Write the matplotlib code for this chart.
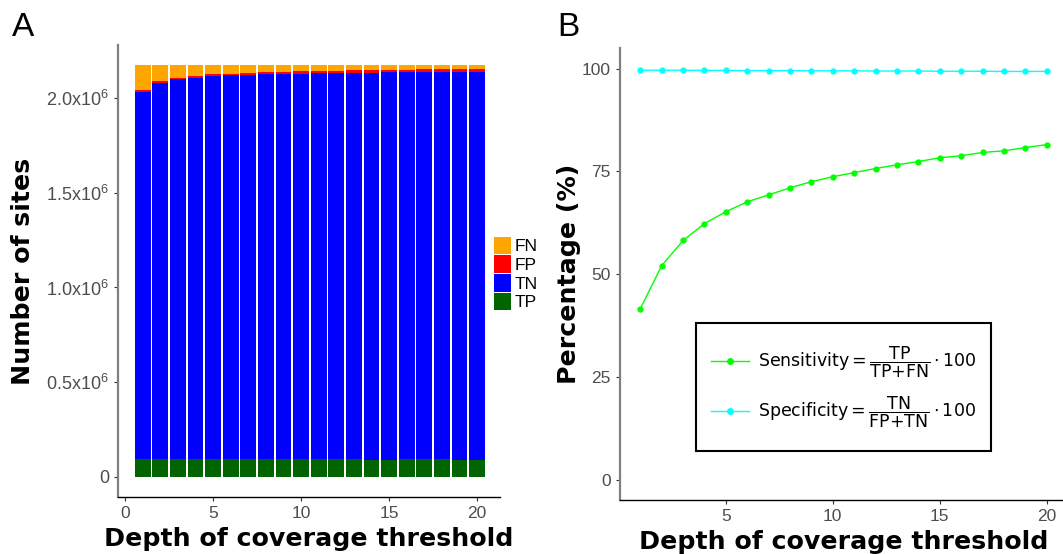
import numpy as np
import matplotlib
matplotlib.use("Agg")
import matplotlib.pyplot as plt
from matplotlib.patches import Patch
from matplotlib.lines import Line2D
from matplotlib.path import Path
from matplotlib.font_manager import FontProperties

plt.rcParams['font.family'] = 'Liberation Sans'
plt.rcParams['mathtext.fontset'] = 'custom'
plt.rcParams['mathtext.rm'] = 'Liberation Sans'
plt.rcParams['mathtext.it'] = 'Liberation Sans:italic'
plt.rcParams['mathtext.bf'] = 'Liberation Sans:bold'

# Data
depth = list(range(1, 21))
tp = [95000, 95000, 95000, 95000, 95000, 95000, 95000, 95000, 95000, 95000,
      95000, 95000, 95000, 91000, 91000, 95000, 95000, 95000, 91000, 91000]
tn = [1938600, 1983700, 2003300, 2013000, 2019300, 2024000, 2026900, 2030200, 2032500, 2034100,
      2035800, 2037000, 2038500, 2043300, 2044700, 2040900, 2042200, 2042250, 2047400, 2048400]
fp = [8000, 9000, 8500, 9500, 10000, 10500, 11000, 11000, 11500, 12000,
      12000, 12500, 12500, 13000, 13000, 13500, 13500, 14000, 14000, 15000]
fn = [133400, 87300, 68200, 57500, 50700, 45500, 42100, 38800, 36000, 33900,
      32200, 30500, 29000, 26600, 25200, 25600, 24300, 23750, 21600, 20650]

sensitivity = [41.6, 52.1, 58.2, 62.3, 65.2, 67.6, 69.3, 71.0, 72.5, 73.7,
               74.7, 75.7, 76.6, 77.4, 78.3, 78.8, 79.6, 80.0, 80.8, 81.5]
specificity = [99.6, 99.6, 99.6, 99.55, 99.55, 99.5, 99.5, 99.5, 99.45, 99.45,
               99.45, 99.4, 99.4, 99.4, 99.35, 99.35, 99.35, 99.3, 99.3, 99.3]

colors = {'FN': '#FFA500', 'FP': '#FF0000', 'TN': '#0000FF', 'TP': '#006400'}

fig = plt.figure(figsize=(10.63, 5.54), dpi=100)
W, H = 1063, 554

# ---------------- Panel A ----------------
axA = fig.add_axes([118 / W, 1 - 497 / H, (500 - 118) / W, (497 - 45) / H])
x = np.array(depth)
bottom = np.zeros(len(depth))
for name, vals in [('TP', tp), ('TN', tn), ('FP', fp), ('FN', fn)]:
    axA.bar(x, vals, width=0.9, bottom=bottom, color=colors[name], linewidth=0)
    bottom += np.array(vals)

axA.set_xlim(-0.4, 21.3)
axA.set_ylim(-0.106e6, 2.28e6)
axA.set_xticks([0, 5, 10, 15, 20])
axA.set_yticks([0, 0.5e6, 1.0e6, 1.5e6, 2.0e6])
axA.set_yticklabels(['0', r'0.5x10$^{6}$', r'1.0x10$^{6}$', r'1.5x10$^{6}$', r'2.0x10$^{6}$'])
axA.set_xlabel('Depth of coverage threshold', fontsize=18.2, fontweight='bold',
               family='DejaVu Sans', labelpad=4)
axA.set_ylabel('Number of sites', fontsize=18.2, fontweight='bold',
               family='DejaVu Sans', labelpad=8)

leg_handles = [Patch(facecolor=colors[k], edgecolor='none', label=k) for k in ['FN', 'FP', 'TN', 'TP']]
fig.legend(handles=leg_handles, loc='center left', bbox_to_anchor=(494 / W, 1 - 273.5 / H),
           frameon=False, fontsize=12.5, handlelength=1.0, handleheight=1.2,
           handletextpad=0.2, labelspacing=0.05, borderpad=0, borderaxespad=0)

# ---------------- Panel B ----------------
axB = fig.add_axes([620 / W, 1 - 500 / H, (1067 - 620) / W, (500 - 48) / H])
axB.plot(depth, sensitivity, color='#00FF00', lw=1, marker='o', ms=3.5)
axB.plot(depth, specificity, color='#00FFFF', lw=1, marker='o', ms=3.5)
axB.set_xlim(0.05, 20.95)
axB.set_ylim(-4.9, 105)
axB.set_xticks([5, 10, 15, 20])
axB.set_yticks([0, 25, 50, 75, 100])
axB.set_xlabel('Depth of coverage threshold', fontsize=18.2, fontweight='bold',
               family='DejaVu Sans', labelpad=4)
axB.set_ylabel('Percentage (%)', fontsize=18.2, fontweight='bold',
               family='DejaVu Sans', labelpad=1)

lh = [Line2D([], [], color='#00FF00', lw=1, marker='o', ms=4),
      Line2D([], [], color='#00FFFF', lw=1, marker='o', ms=4)]
labels = [r'Sensitivity$=\dfrac{\mathrm{TP}}{\mathrm{TP{+}FN}}\cdot100$',
          r'Specificity$=\dfrac{\mathrm{TN}}{\mathrm{FP{+}TN}}\cdot100$']
prop = FontProperties(family='DejaVu Sans', size=12.5, math_fontfamily='dejavusans')
legB = axB.legend(lh, labels, loc='center', bbox_to_anchor=(0.5, 0.25), prop=prop,
                  fancybox=False, edgecolor='black', framealpha=1,
                  handlelength=2.2, borderpad=0.85,
                  labelspacing=0.85, handletextpad=0.5)


# legend box a bit taller than the default padding gives
def tall_box(x0, y0, width, height, mutation_size):
    dy = 0.37 * mutation_size
    return Path([(x0, y0 - dy), (x0 + width, y0 - dy), (x0 + width, y0 + height + dy),
                 (x0, y0 + height + dy), (x0, y0 - dy)], closed=True)


legB.get_frame().set_boxstyle(tall_box)
legB.get_frame().set_linewidth(1.5)

for ax in (axA, axB):
    for s in ('top', 'right'):
        ax.spines[s].set_visible(False)
    ax.spines['left'].set_color('#808080')
    ax.spines['left'].set_linewidth(1.6)
    ax.spines['bottom'].set_color('black')
    ax.spines['bottom'].set_linewidth(1.0)
    ax.tick_params(axis='both', labelsize=12.5, labelcolor='#4d4d4d', color='#333333',
                   length=3, width=0.8)
axA.tick_params(axis='y', labelsize=13)

fig.text(12 / W, 1 - 36 / H, 'A', fontsize=24, va='baseline')
fig.text(557 / W, 1 - 36 / H, 'B', fontsize=24, va='baseline')

fig.savefig('out.png', dpi=100)
